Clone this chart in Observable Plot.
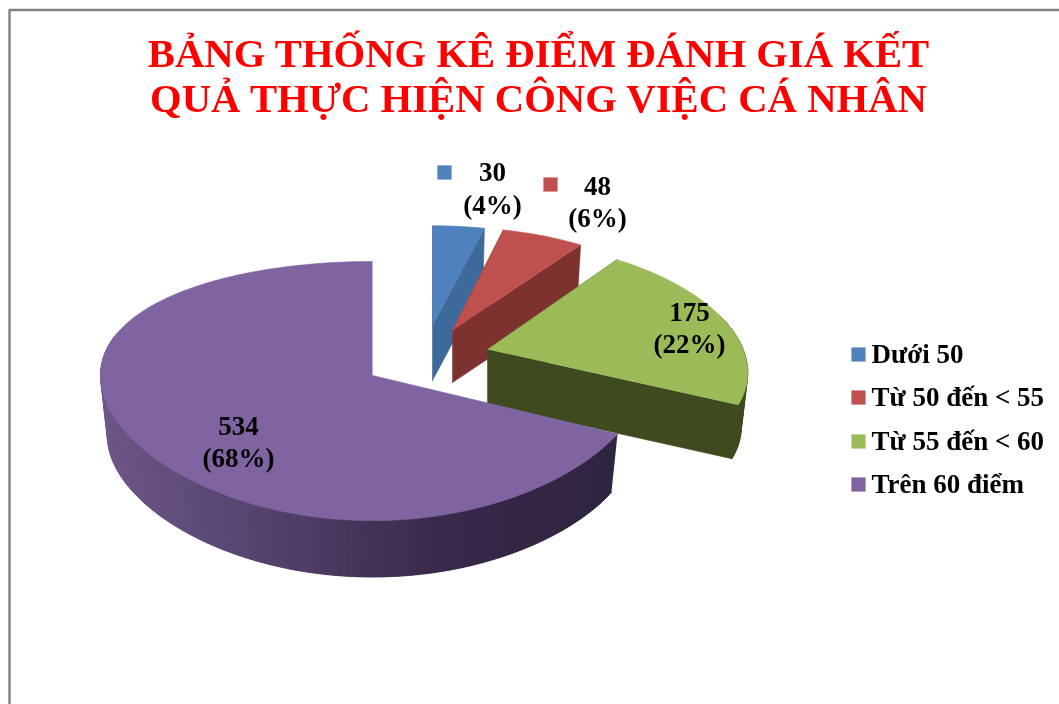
<!DOCTYPE html>
<html>
<head>
<meta charset="utf-8">
<script src="https://cdn.jsdelivr.net/npm/d3@7"></script>
<script src="https://cdn.jsdelivr.net/npm/@observablehq/plot@0.6"></script>
<style>
html,body{margin:0;padding:0;background:#fff;overflow:hidden}
svg{display:block;filter:blur(0.5px)}
</style>
</head>
<body>
<div id="chart"></div>
<script>
const titleLines = ["BẢNG THỐNG KÊ ĐIỂM ĐÁNH GIÁ KẾT", "QUẢ THỰC HIỆN CÔNG VIỆC CÁ NHÂN"];
const categories = ["Dưới 50", "Từ 50 đến < 55", "Từ 55 đến < 60", "Trên 60 điểm"];
const counts = [30, 48, 175, 534];
const topColors = ["#4f81bd", "#c0504d", "#9bbb59", "#8064a2"];
const sideColors = ["#3d6a9b", "#7e3230", "#3f4a20", "#3f2f55"];

// Layout of each exploded slice (pixels in the picture's frame)
const sliceLayout = [
  {cx: 432, cy: 325, kx: 0.95, ky: 0.875, px: 0.187, h: 55},
  {cx: 452, cy: 330, kx: 0.93, ky: 0.905, px: 0.187, h: 52},
  {cx: 487, cy: 349, kx: 0.94, ky: 0.95, px: 0.187, h: 55},
  {cx: 372, cy: 375, kx: 1.0, ky: 1.0, px: 0, h: 60}
];
const labelLayout = [
  {x: 492, y: 172, dy: 33, sx: 444, sy: 172},
  {x: 597, y: 186, dy: 32, sx: 550, sy: 184},
  {x: 689, y: 312, dy: 32},
  {x: 238, y: 426, dy: 32}
];
const legendLayout = {sx: 858, tx: 871, ys: [354, 397, 441, 484]};
const Rx = 272, Ry = 127.7, P = 0.12, KB = 0.975;

const total = d3.sum(counts);
const faces = [];
let start = 0;
const shade = d3.scaleLinear().domain([-1, -0.34, 0.28, 0.9])
  .range(["#6e5788", "#52406a", "#38294a", "#2f2540"]);

function pt(L, a, r, bottom) {
  const u = r * Math.sin(a), v = -r * Math.cos(a);
  let x = L.kx * Rx * u / (1 - L.px * v);
  let y = L.ky * Ry * v / (1 - P * v);
  if (bottom) { x *= KB; y = y * KB + L.h; }
  return {x: L.cx + x, y: L.cy + y};
}
function addFace(id, fill, pts) {
  for (const p of pts) faces.push({id, fill, x: p.x, y: p.y});
}

counts.forEach((c, i) => {
  const L = sliceLayout[i];
  const end = start + c / total * 2 * Math.PI;
  const n = Math.max(6, Math.round((end - start) * 40));
  const angles = d3.range(n + 1).map(j => start + (end - start) * j / n);
  // cut faces (the last slice's cut faces are turned away from the viewer)
  if (i < 3) {
    [start, end].forEach((a, k) => {
      addFace(`c${i}-${k}`, sideColors[i],
        [pt(L, a, 0, false), pt(L, a, 1, false), pt(L, a, 1, true), pt(L, a, 0, true)]);
    });
  }
  // outer wall: each strip overlaps the next so no seams show; back strips stay hidden
  for (let j = 0; j < n; j++) {
    if (Math.cos(angles[j]) > 0.3) continue;
    const a0 = angles[j], a1 = angles[Math.min(j + 2, n)];
    const fill = i === 3 ? shade(Math.sin(angles[j])) : sideColors[i];
    addFace(`w${i}-${j}`, fill, [pt(L, a0, 1, false), pt(L, a1, 1, false), pt(L, a1, 1, true), pt(L, a0, 1, true)]);
  }
  // top face
  addFace(`t${i}`, topColors[i], [pt(L, 0, 0, false), ...angles.map(a => pt(L, a, 1, false))]);
  start = end;
});

const valueLabels = [];
counts.forEach((c, i) => {
  const l = labelLayout[i];
  valueLabels.push({x: l.x, y: l.y, t: String(c)});
  valueLabels.push({x: l.x, y: l.y + l.dy, t: `(${Math.round(c / total * 100)}%)`});
});
const keySquares = [0, 1].map(i => ({x: labelLayout[i].sx, y: labelLayout[i].sy, fill: topColors[i]}));
const legendRows = categories.map((name, i) => ({name, y: legendLayout.ys[i], fill: topColors[i]}));
const frameLine = [{x: 1059, y: 9.5}, {x: 9, y: 9.5}, {x: 9, y: 704}];

const serif = "'Liberation Serif','Times New Roman',serif";
const chart = Plot.plot({
  width: 1059, height: 704,
  margin: 0,
  x: {domain: [0, 1059], range: [0, 1059], axis: null},
  y: {domain: [0, 704], range: [0, 704], axis: null},
  color: {type: "identity"},
  style: {background: "#fff", fontFamily: serif},
  marks: [
    Plot.line(frameLine, {x: "x", y: "y", stroke: "#808080", strokeWidth: 2.4, curve: "linear"}),
    Plot.text(titleLines, {
      x: 538, y: (d, i) => 53 + i * 45, text: d => d,
      fill: "#ff0000", fontSize: 40.7, fontWeight: "bold", fontFamily: serif, textAnchor: "middle", lineAnchor: "middle"
    }),
    Plot.line(faces, {x: "x", y: "y", z: "id", fill: "fill", stroke: "fill", strokeWidth: 0.6, curve: "linear"}),
    Plot.text(valueLabels, {
      x: "x", y: "y", text: "t", fill: "#000", fontSize: 27, fontWeight: "bold", fontFamily: serif, lineAnchor: "middle"
    }),
    Plot.dot(keySquares, {x: "x", y: "y", fill: "fill", symbol: "square", r: 8, stroke: null}),
    Plot.dot(legendRows, {x: legendLayout.sx, y: "y", fill: "fill", symbol: "square", r: 8, stroke: null}),
    Plot.text(legendRows, {
      x: legendLayout.tx, y: "y", text: "name", fill: "#000", fontSize: 27, fontWeight: "bold", fontFamily: serif,
      textAnchor: "start", lineAnchor: "middle"
    })
  ]
});
document.getElementById("chart").append(chart);
</script>
</body>
</html>
